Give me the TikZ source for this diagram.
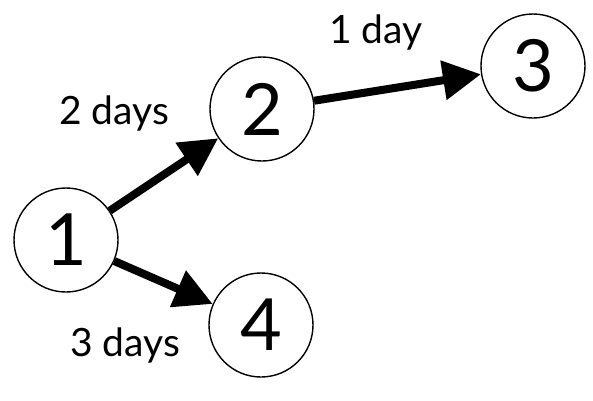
\documentclass[tikz,border=0pt]{standalone}
\usepackage{fontspec}
\setmainfont{Lato}
\usetikzlibrary{arrows.meta}
\begin{document}
\begin{tikzpicture}[x=1pt,y=-1pt,
  vert/.style={circle,draw,line width=1.4pt,minimum size=104pt,inner sep=0pt,font=\fontsize{72}{72}\selectfont},
  lbl/.style={font=\fontsize{39}{39}\selectfont,inner sep=0pt},
  edge/.style={line width=8pt,-{Triangle[length=38pt,width=38pt]}}]
\useasboundingbox (0,0) rectangle (593,400);
\node[vert] (n1) at (66,240) {1};
\node[vert] (n2) at (262,109) {2};
\node[vert] (n3) at (533,66) {3};
\node[vert] (n4) at (261,325) {4};
\draw[edge] (n1) -- (n2);
\draw[edge] (n2) -- (n3);
\draw[edge] (n1) -- (n4);
\node[lbl,anchor=base] (l12) at (114,124) {2 days};
\node[lbl,anchor=base] (l23) at (376,43) {1 day};
\node[lbl,anchor=base] (l14) at (125,356) {3 days};
\end{tikzpicture}
\end{document}
